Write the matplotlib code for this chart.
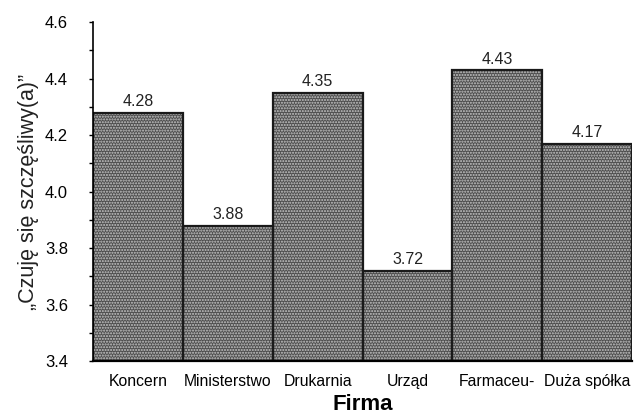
import matplotlib
matplotlib.use("Agg")
import matplotlib.pyplot as plt
import numpy as np

plt.rcParams['font.family'] = ['Liberation Sans', 'DejaVu Sans']

firms = ["Koncern", "Ministerstwo", "Drukarnia", "Urząd", "Farmaceu-", "Duża spółka"]
scores = [4.28, 3.88, 4.35, 3.72, 4.43, 4.17]
base = 3.4

fig = plt.figure(figsize=(6.36, 4.18), dpi=100)
ax = fig.add_axes([0.146, 0.136, 0.848, 0.811])

x = np.arange(len(firms))
heights = [s - base for s in scores]
# stippled fill, then black outlines on top
ax.bar(x, heights, bottom=base, width=1.0, color="#4e4e4e", edgecolor="#c8c8c8",
       hatch="......", linewidth=0)
ax.bar(x, heights, bottom=base, width=1.0, color="none", edgecolor="#1a1a1a", linewidth=1.6)

for xi, s in zip(x, scores):
    ax.text(xi, s + 0.012, f"{s:.2f}", ha="center", va="bottom", fontsize=11.5, color="#222222")

ax.set_xlim(-0.5, len(firms) - 0.5)
ax.set_ylim(3.4, 4.6)
ax.set_yticks(np.arange(3.4, 4.61, 0.2))
ax.set_yticks(np.arange(3.5, 4.6, 0.2), minor=True)
ax.set_yticklabels([f"{v:.1f}" for v in np.arange(3.4, 4.61, 0.2)], fontsize=12)
ax.set_xticks(x)
ax.set_xticklabels(firms, fontsize=11.3)
ax.tick_params(axis="x", length=0, pad=9)
ax.tick_params(axis="y", which="both", length=3, width=1, direction="out", pad=15)

for sp in ["top", "right"]:
    ax.spines[sp].set_visible(False)
ax.spines["left"].set_linewidth(1.2)
ax.spines["bottom"].set_linewidth(1.6)

ax.set_xlabel("Firma", fontsize=16, fontweight="bold", labelpad=4)
ax.set_ylabel("„Czuję się szczęśliwy(a)”", fontsize=15.5, labelpad=4, color="#222222")

fig.savefig("out.png", dpi=100)
